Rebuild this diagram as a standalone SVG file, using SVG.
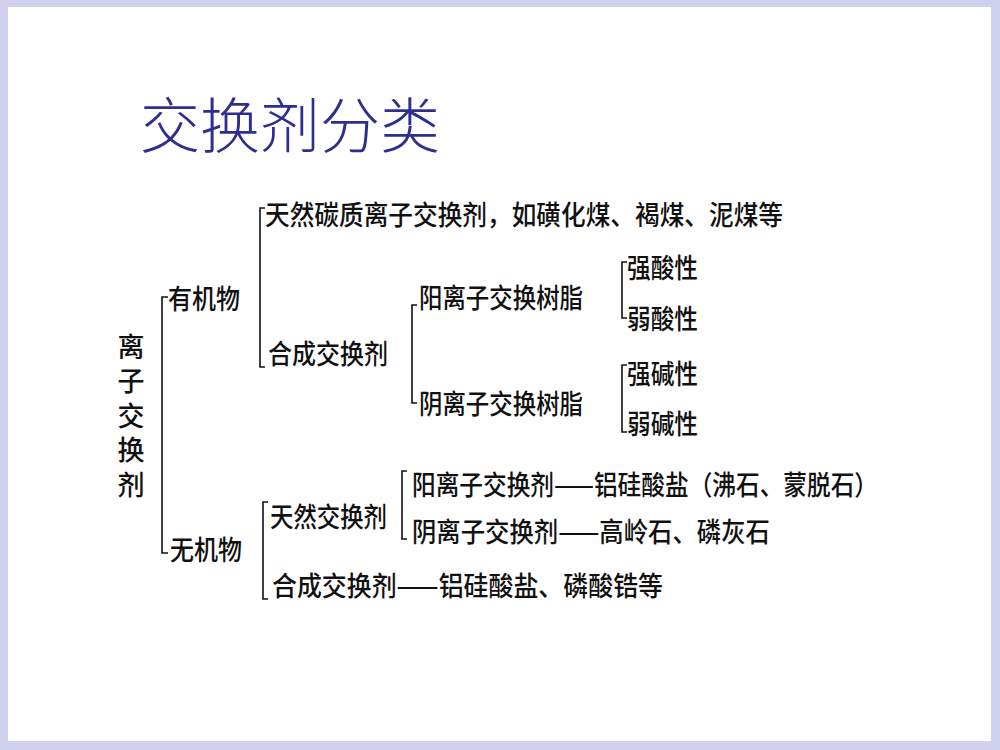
<svg xmlns="http://www.w3.org/2000/svg" width="1000" height="750" viewBox="0 0 1000 750">
<style>
.t{font-family:"Noto Sans CJK SC","Noto Sans CJK JP",sans-serif;font-size:27px;font-weight:500;fill:#111;dominant-baseline:central}
.v{font-family:"Noto Sans CJK SC","Noto Sans CJK JP",sans-serif;font-size:27px;font-weight:500;fill:#111;writing-mode:vertical-rl;letter-spacing:7.5px}
.title{font-family:"Noto Sans CJK SC","Noto Sans CJK JP",sans-serif;font-size:60px;font-weight:300;fill:#2e2e8e;dominant-baseline:central}
.br{fill:none;stroke:#111;stroke-width:1.6}
</style>
<rect x="0" y="0" width="1000" height="750" fill="#d0d0ef"/>
<rect x="8" y="7" width="983" height="734" fill="#ffffff"/>
<g id="title"><text class="title" x="140" y="121" textLength="300" lengthAdjust="spacingAndGlyphs">交换剂分类</text></g>
<g id="connectors">
<path class="br" d="M168,297 H162 V553 H168"/>
<path class="br" d="M265,208 H260 V367 H265"/>
<path class="br" d="M417,305 H412 V403 H417"/>
<path class="br" d="M627,262 H622 V318 H627"/>
<path class="br" d="M627,365 H622 V432 H627"/>
<path class="br" d="M268,502 H263 V599 H268"/>
<path class="br" d="M407,471 H402 V539 H407"/>
</g>
<g id="root"><text class="v" x="131" y="333">离子交换剂</text></g>
<g id="organic"><text class="t" x="168" y="297" textLength="72" lengthAdjust="spacingAndGlyphs">有机物</text></g>
<g id="inorganic"><text class="t" x="170" y="548" textLength="72" lengthAdjust="spacingAndGlyphs">无机物</text></g>
<g id="natural-carbon"><text class="t" x="265" y="213" textLength="518" lengthAdjust="spacingAndGlyphs">天然碳质离子交换剂，如磺化煤、褐煤、泥煤等</text></g>
<g id="synthetic-organic"><text class="t" x="268" y="352" textLength="120" lengthAdjust="spacingAndGlyphs">合成交换剂</text></g>
<g id="cation-resin"><text class="t" x="419" y="296" textLength="164" lengthAdjust="spacingAndGlyphs">阳离子交换树脂</text></g>
<g id="anion-resin"><text class="t" x="419" y="402" textLength="164" lengthAdjust="spacingAndGlyphs">阴离子交换树脂</text></g>
<g id="strong-acid"><text class="t" x="627" y="266" textLength="71" lengthAdjust="spacingAndGlyphs">强酸性</text></g>
<g id="weak-acid"><text class="t" x="627" y="317" textLength="71" lengthAdjust="spacingAndGlyphs">弱酸性</text></g>
<g id="strong-base"><text class="t" x="627" y="372" textLength="71" lengthAdjust="spacingAndGlyphs">强碱性</text></g>
<g id="weak-base"><text class="t" x="627" y="422" textLength="71" lengthAdjust="spacingAndGlyphs">弱碱性</text></g>
<g id="natural-inorganic"><text class="t" x="270" y="515" textLength="117" lengthAdjust="spacingAndGlyphs">天然交换剂</text></g>
<g id="cation-inorganic"><text class="t" x="412" y="483" textLength="466" lengthAdjust="spacingAndGlyphs">阳离子交换剂——铝硅酸盐（沸石、蒙脱石）</text></g>
<g id="anion-inorganic"><text class="t" x="412" y="530" textLength="358" lengthAdjust="spacingAndGlyphs">阴离子交换剂——高岭石、磷灰石</text></g>
<g id="synthetic-inorganic"><text class="t" x="272" y="584" textLength="391" lengthAdjust="spacingAndGlyphs">合成交换剂——铝硅酸盐、磷酸锆等</text></g>
</svg>
